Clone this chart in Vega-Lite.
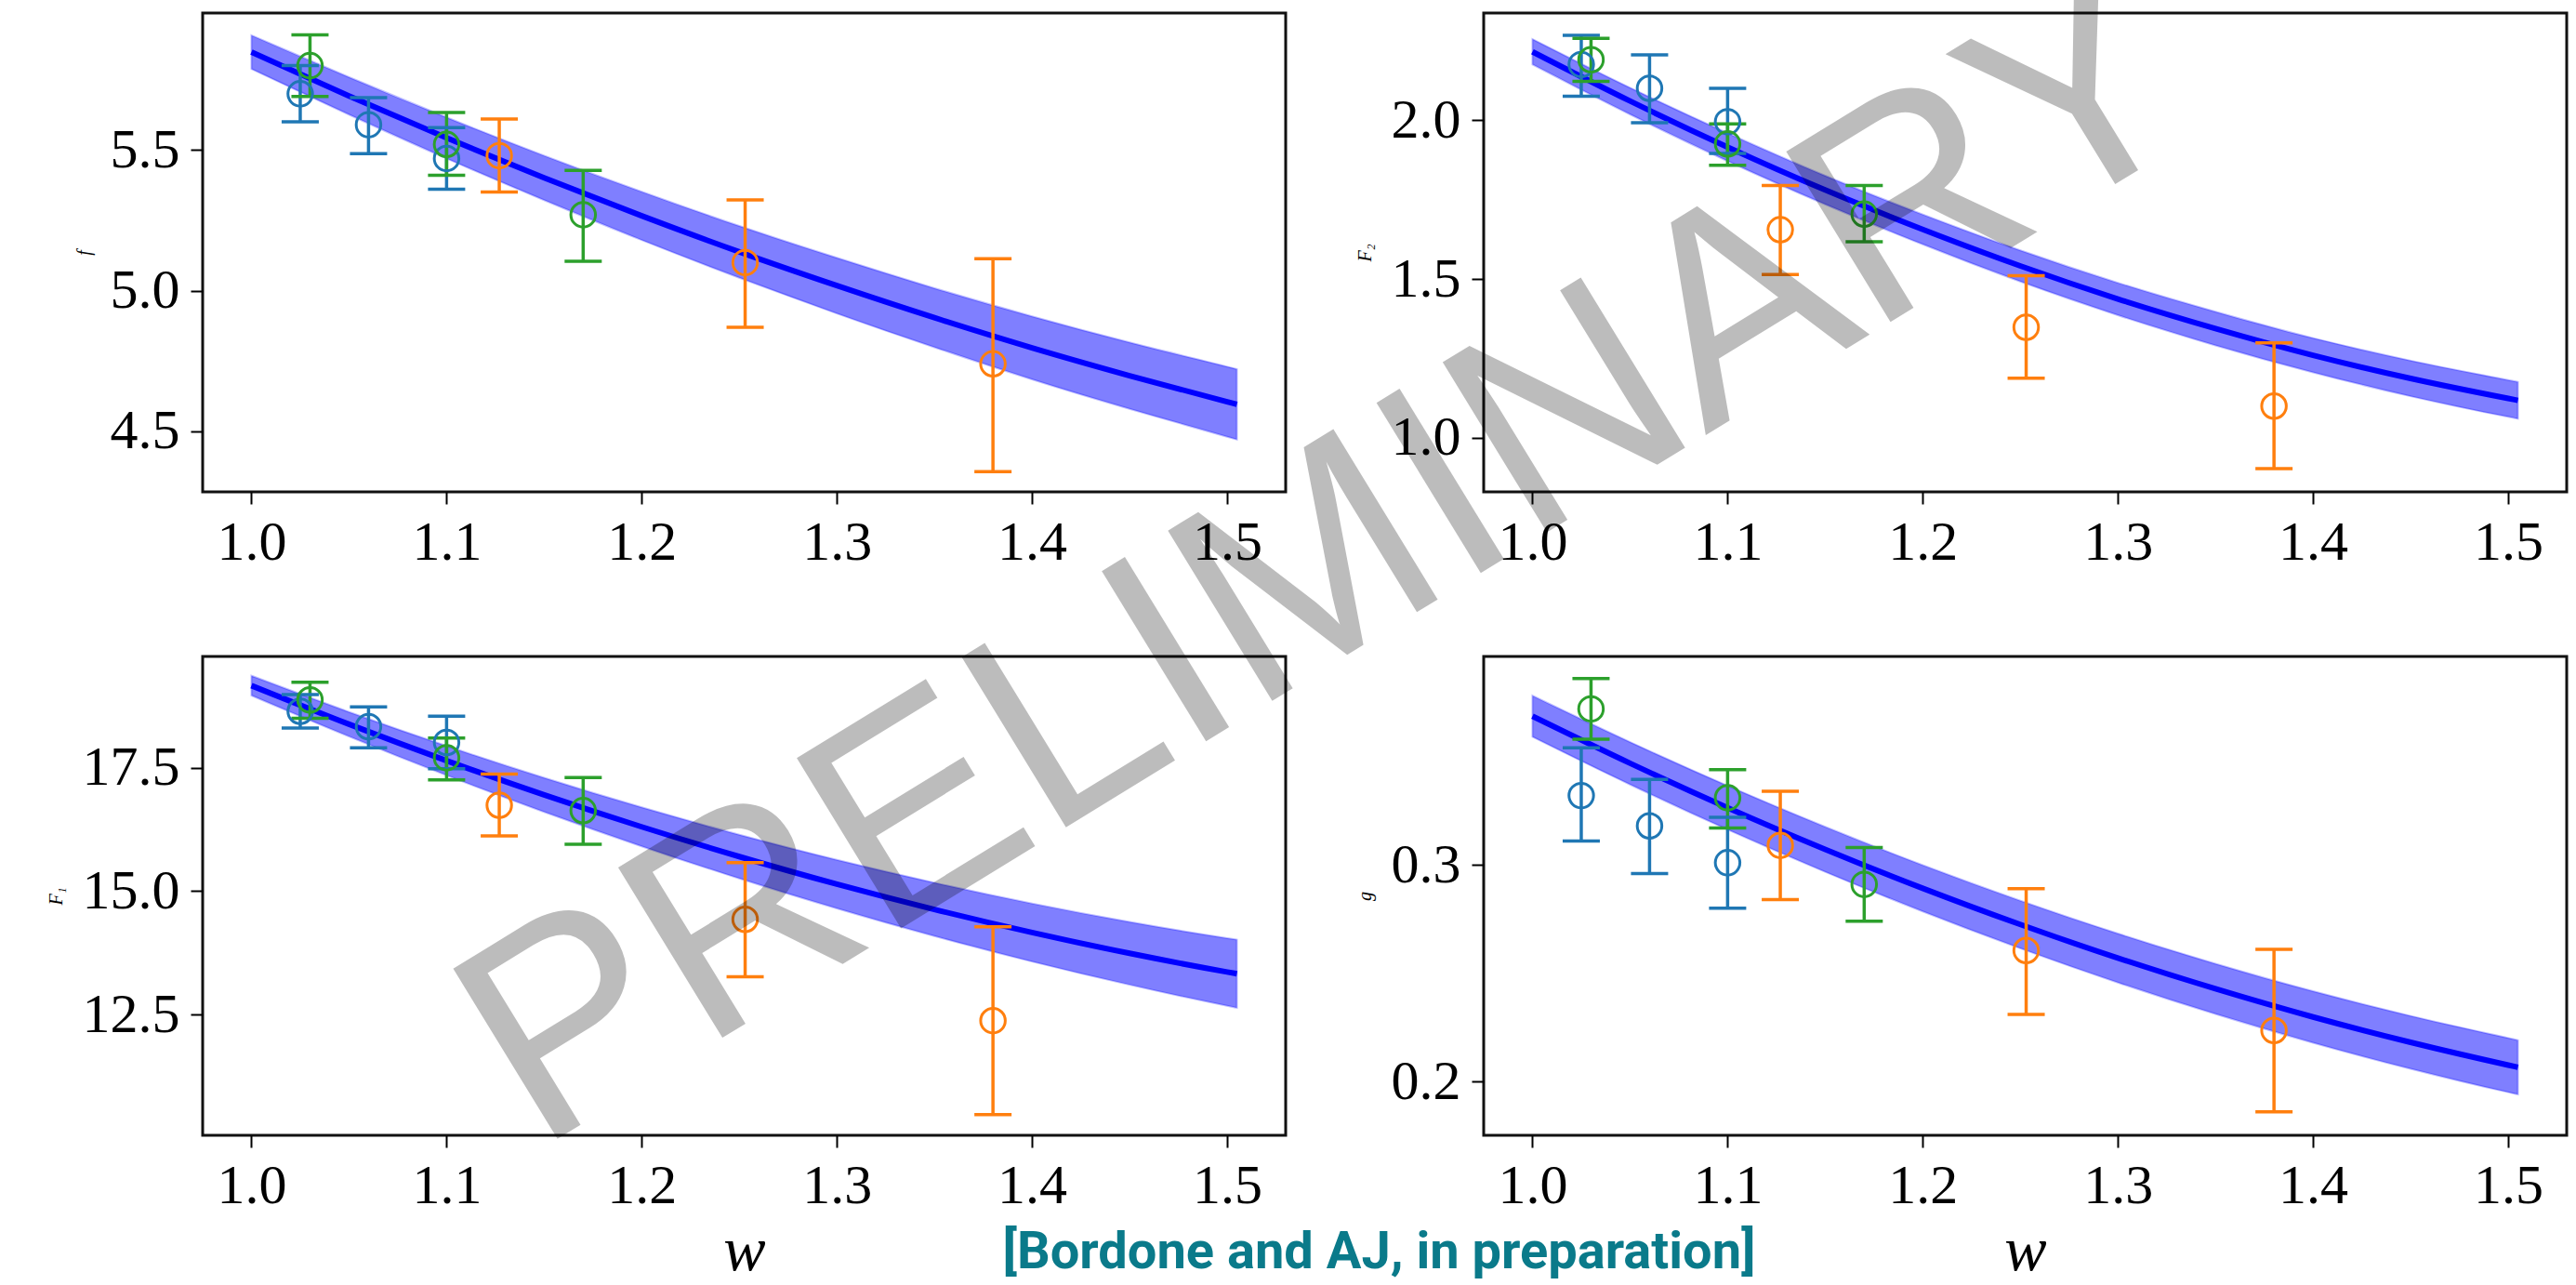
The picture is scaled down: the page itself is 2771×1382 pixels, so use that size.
{
  "$schema": "https://vega.github.io/schema/vega-lite/v6.json",
  "background": "white",
  "autosize": {"type": "none"},
  "padding": {"left": 218, "top": 14, "right": 2553, "bottom": 1368},
  "datasets": {
    "pts": [
      {"q": "f", "s": "s1", "w": 1.025, "v": 5.70, "lo": 5.60, "hi": 5.80},
      {"q": "f", "s": "s1", "w": 1.06, "v": 5.59, "lo": 5.487, "hi": 5.686},
      {"q": "f", "s": "s1", "w": 1.10, "v": 5.47, "lo": 5.361, "hi": 5.58},
      {"q": "f", "s": "s2", "w": 1.127, "v": 5.48, "lo": 5.351, "hi": 5.61},
      {"q": "f", "s": "s2", "w": 1.253, "v": 5.10, "lo": 4.87, "hi": 5.323},
      {"q": "f", "s": "s2", "w": 1.38, "v": 4.74, "lo": 4.357, "hi": 5.114},
      {"q": "f", "s": "s3", "w": 1.03, "v": 5.80, "lo": 5.69, "hi": 5.909},
      {"q": "f", "s": "s3", "w": 1.10, "v": 5.52, "lo": 5.41, "hi": 5.633},
      {"q": "f", "s": "s3", "w": 1.17, "v": 5.27, "lo": 5.105, "hi": 5.428},
      {"q": "F2", "s": "s1", "w": 1.025, "v": 2.175, "lo": 2.075, "hi": 2.267},
      {"q": "F2", "s": "s1", "w": 1.06, "v": 2.10, "lo": 1.992, "hi": 2.205},
      {"q": "F2", "s": "s1", "w": 1.10, "v": 1.995, "lo": 1.895, "hi": 2.10},
      {"q": "F2", "s": "s2", "w": 1.127, "v": 1.655, "lo": 1.514, "hi": 1.794},
      {"q": "F2", "s": "s2", "w": 1.253, "v": 1.348, "lo": 1.188, "hi": 1.51},
      {"q": "F2", "s": "s2", "w": 1.38, "v": 1.10, "lo": 0.903, "hi": 1.299},
      {"q": "F2", "s": "s3", "w": 1.03, "v": 2.19, "lo": 2.122, "hi": 2.257},
      {"q": "F2", "s": "s3", "w": 1.10, "v": 1.925, "lo": 1.858, "hi": 1.988},
      {"q": "F2", "s": "s3", "w": 1.17, "v": 1.704, "lo": 1.617, "hi": 1.794},
      {"q": "F1", "s": "s1", "w": 1.025, "v": 18.64, "lo": 18.30, "hi": 18.98},
      {"q": "F1", "s": "s1", "w": 1.06, "v": 18.33, "lo": 17.90, "hi": 18.73},
      {"q": "F1", "s": "s1", "w": 1.10, "v": 18.01, "lo": 17.48, "hi": 18.54},
      {"q": "F1", "s": "s2", "w": 1.127, "v": 16.74, "lo": 16.12, "hi": 17.37},
      {"q": "F1", "s": "s2", "w": 1.253, "v": 14.43, "lo": 13.27, "hi": 15.58},
      {"q": "F1", "s": "s2", "w": 1.38, "v": 12.38, "lo": 10.48, "hi": 14.28},
      {"q": "F1", "s": "s3", "w": 1.03, "v": 18.87, "lo": 18.50, "hi": 19.23},
      {"q": "F1", "s": "s3", "w": 1.10, "v": 17.70, "lo": 17.25, "hi": 18.10},
      {"q": "F1", "s": "s3", "w": 1.17, "v": 16.63, "lo": 15.95, "hi": 17.30},
      {"q": "g", "s": "s1", "w": 1.025, "v": 0.332, "lo": 0.311, "hi": 0.354},
      {"q": "g", "s": "s1", "w": 1.06, "v": 0.318, "lo": 0.296, "hi": 0.3395},
      {"q": "g", "s": "s1", "w": 1.10, "v": 0.301, "lo": 0.280, "hi": 0.322},
      {"q": "g", "s": "s2", "w": 1.127, "v": 0.309, "lo": 0.284, "hi": 0.334},
      {"q": "g", "s": "s2", "w": 1.253, "v": 0.2605, "lo": 0.231, "hi": 0.289},
      {"q": "g", "s": "s2", "w": 1.38, "v": 0.2236, "lo": 0.186, "hi": 0.261},
      {"q": "g", "s": "s3", "w": 1.03, "v": 0.372, "lo": 0.358, "hi": 0.386},
      {"q": "g", "s": "s3", "w": 1.10, "v": 0.331, "lo": 0.317, "hi": 0.344},
      {"q": "g", "s": "s3", "w": 1.17, "v": 0.291, "lo": 0.274, "hi": 0.308}
    ],
    "curve": [
      {"q": "f", "w": 1.0, "c": 5.848, "lo": 5.788, "hi": 5.908},
      {"q": "f", "w": 1.05, "c": 5.692, "lo": 5.626, "hi": 5.759},
      {"q": "f", "w": 1.10, "c": 5.543, "lo": 5.470, "hi": 5.616},
      {"q": "f", "w": 1.15, "c": 5.401, "lo": 5.322, "hi": 5.480},
      {"q": "f", "w": 1.20, "c": 5.266, "lo": 5.180, "hi": 5.352},
      {"q": "f", "w": 1.25, "c": 5.138, "lo": 5.046, "hi": 5.230},
      {"q": "f", "w": 1.30, "c": 5.018, "lo": 4.919, "hi": 5.117},
      {"q": "f", "w": 1.35, "c": 4.904, "lo": 4.799, "hi": 5.009},
      {"q": "f", "w": 1.40, "c": 4.797, "lo": 4.685, "hi": 4.909},
      {"q": "f", "w": 1.45, "c": 4.698, "lo": 4.580, "hi": 4.816},
      {"q": "f", "w": 1.50, "c": 4.605, "lo": 4.481, "hi": 4.730},
      {"q": "f", "w": 1.505, "c": 4.596, "lo": 4.471, "hi": 4.721},
      {"q": "F2", "w": 1.0, "c": 2.215, "lo": 2.175, "hi": 2.255},
      {"q": "F2", "w": 1.05, "c": 2.060, "lo": 2.018, "hi": 2.102},
      {"q": "F2", "w": 1.10, "c": 1.915, "lo": 1.871, "hi": 1.959},
      {"q": "F2", "w": 1.15, "c": 1.780, "lo": 1.735, "hi": 1.825},
      {"q": "F2", "w": 1.20, "c": 1.656, "lo": 1.609, "hi": 1.703},
      {"q": "F2", "w": 1.25, "c": 1.541, "lo": 1.492, "hi": 1.590},
      {"q": "F2", "w": 1.30, "c": 1.437, "lo": 1.386, "hi": 1.488},
      {"q": "F2", "w": 1.35, "c": 1.344, "lo": 1.291, "hi": 1.397},
      {"q": "F2", "w": 1.40, "c": 1.260, "lo": 1.206, "hi": 1.314},
      {"q": "F2", "w": 1.45, "c": 1.187, "lo": 1.131, "hi": 1.243},
      {"q": "F2", "w": 1.50, "c": 1.124, "lo": 1.066, "hi": 1.182},
      {"q": "F2", "w": 1.505, "c": 1.118, "lo": 1.060, "hi": 1.176},
      {"q": "F1", "w": 1.0, "c": 19.160, "lo": 18.960, "hi": 19.360},
      {"q": "F1", "w": 1.05, "c": 18.378, "lo": 18.130, "hi": 18.627},
      {"q": "F1", "w": 1.10, "c": 17.641, "lo": 17.344, "hi": 17.938},
      {"q": "F1", "w": 1.15, "c": 16.949, "lo": 16.604, "hi": 17.295},
      {"q": "F1", "w": 1.20, "c": 16.302, "lo": 15.908, "hi": 16.696},
      {"q": "F1", "w": 1.25, "c": 15.700, "lo": 15.258, "hi": 16.143},
      {"q": "F1", "w": 1.30, "c": 15.142, "lo": 14.651, "hi": 15.633},
      {"q": "F1", "w": 1.35, "c": 14.631, "lo": 14.092, "hi": 15.171},
      {"q": "F1", "w": 1.40, "c": 14.164, "lo": 13.576, "hi": 14.752},
      {"q": "F1", "w": 1.45, "c": 13.742, "lo": 13.106, "hi": 14.379},
      {"q": "F1", "w": 1.50, "c": 13.365, "lo": 12.680, "hi": 14.050},
      {"q": "F1", "w": 1.505, "c": 13.330, "lo": 12.640, "hi": 14.020},
      {"q": "g", "w": 1.0, "c": 0.3686, "lo": 0.3591, "hi": 0.3781},
      {"q": "g", "w": 1.05, "c": 0.3469, "lo": 0.3371, "hi": 0.3567},
      {"q": "g", "w": 1.10, "c": 0.3264, "lo": 0.3163, "hi": 0.3365},
      {"q": "g", "w": 1.15, "c": 0.3072, "lo": 0.2968, "hi": 0.3176},
      {"q": "g", "w": 1.20, "c": 0.2892, "lo": 0.2785, "hi": 0.2999},
      {"q": "g", "w": 1.25, "c": 0.2725, "lo": 0.2615, "hi": 0.2835},
      {"q": "g", "w": 1.30, "c": 0.2570, "lo": 0.2457, "hi": 0.2683},
      {"q": "g", "w": 1.35, "c": 0.2428, "lo": 0.2312, "hi": 0.2544},
      {"q": "g", "w": 1.40, "c": 0.2298, "lo": 0.2179, "hi": 0.2417},
      {"q": "g", "w": 1.45, "c": 0.2181, "lo": 0.2059, "hi": 0.2303},
      {"q": "g", "w": 1.50, "c": 0.2076, "lo": 0.1951, "hi": 0.2201},
      {"q": "g", "w": 1.505, "c": 0.2066, "lo": 0.1941, "hi": 0.2191}
    ]
  },
  "title": {
    "text": "[Bordone and AJ, in preparation]",
    "orient": "bottom",
    "anchor": "middle",
    "font": "Liberation Sans Narrow, Roboto, sans-serif",
    "fontSize": 56,
    "fontWeight": "bold",
    "color": "#0a7a8a",
    "offset": -61,
    "dx": 78
  },
  "columns": 2,
  "bounds": "flush",
  "spacing": {"row": 177, "column": 213},
  "concat": [
    {
      "width": 1165, "height": 515,
      "layer": [
        {"data": {"name": "curve"}, "transform": [{"filter": "datum.q === 'f'"}],
         "mark": {"type": "area", "interpolate": "monotone", "fill": "#0000ff", "fillOpacity": 0.5, "stroke": "#0000ff", "strokeOpacity": 0.25, "strokeWidth": 2},
         "encoding": {
           "x": {"field": "w", "type": "quantitative", "scale": {"domain": [0.975, 1.53], "nice": false, "zero": false}, "axis": {"values": [1.0, 1.1, 1.2, 1.3, 1.4, 1.5], "format": ".1f", "title": null}},
           "y": {"field": "lo", "type": "quantitative", "scale": {"domain": [4.285, 5.987], "nice": false, "zero": false}, "axis": {"values": [4.5, 5.0, 5.5], "format": ".1f", "title": "f"}},
           "y2": {"field": "hi"}
         }},
        {"data": {"name": "curve"}, "transform": [{"filter": "datum.q === 'f'"}],
         "mark": {"type": "line", "interpolate": "monotone", "color": "#0000ff", "strokeWidth": 6},
         "encoding": {"x": {"field": "w", "type": "quantitative"}, "y": {"field": "c", "type": "quantitative"}}},
        {"data": {"name": "pts"}, "transform": [{"filter": "datum.q === 'f'"}],
         "mark": {"type": "rule", "strokeWidth": 3.5},
         "encoding": {"x": {"field": "w", "type": "quantitative"}, "y": {"field": "lo", "type": "quantitative"}, "y2": {"field": "hi"},
           "color": {"field": "s", "type": "nominal", "scale": {"domain": ["s1", "s2", "s3"], "range": ["#1f77b4", "#ff7f0e", "#2ca02c"]}, "legend": null}}},
        {"data": {"name": "pts"}, "transform": [{"filter": "datum.q === 'f'"}],
         "mark": {"type": "tick", "orient": "horizontal", "size": 40, "thickness": 3.5, "opacity": 1},
         "encoding": {"x": {"field": "w", "type": "quantitative"}, "y": {"field": "lo", "type": "quantitative"},
           "color": {"field": "s", "type": "nominal", "scale": {"domain": ["s1", "s2", "s3"], "range": ["#1f77b4", "#ff7f0e", "#2ca02c"]}, "legend": null}}},
        {"data": {"name": "pts"}, "transform": [{"filter": "datum.q === 'f'"}],
         "mark": {"type": "tick", "orient": "horizontal", "size": 40, "thickness": 3.5, "opacity": 1},
         "encoding": {"x": {"field": "w", "type": "quantitative"}, "y": {"field": "hi", "type": "quantitative"},
           "color": {"field": "s", "type": "nominal", "scale": {"domain": ["s1", "s2", "s3"], "range": ["#1f77b4", "#ff7f0e", "#2ca02c"]}, "legend": null}}},
        {"data": {"name": "pts"}, "transform": [{"filter": "datum.q === 'f'"}],
         "mark": {"type": "point", "shape": "circle", "filled": false, "size": 700, "strokeWidth": 3, "opacity": 1},
         "encoding": {"x": {"field": "w", "type": "quantitative"}, "y": {"field": "v", "type": "quantitative"},
           "color": {"field": "s", "type": "nominal", "scale": {"domain": ["s1", "s2", "s3"], "range": ["#1f77b4", "#ff7f0e", "#2ca02c"]}, "legend": null}}}
      ]
    },
    {
      "width": 1165, "height": 515,
      "layer": [
        {"data": {"name": "curve"}, "transform": [{"filter": "datum.q === 'F2'"}],
         "mark": {"type": "area", "interpolate": "monotone", "fill": "#0000ff", "fillOpacity": 0.5, "stroke": "#0000ff", "strokeOpacity": 0.25, "strokeWidth": 2},
         "encoding": {
           "x": {"field": "w", "type": "quantitative", "scale": {"domain": [0.975, 1.53], "nice": false, "zero": false}, "axis": {"values": [1.0, 1.1, 1.2, 1.3, 1.4, 1.5], "format": ".1f", "title": null}},
           "y": {"field": "lo", "type": "quantitative", "scale": {"domain": [0.83, 2.337], "nice": false, "zero": false}, "axis": {"values": [1.0, 1.5, 2.0], "format": ".1f", "title": "F₂"}},
           "y2": {"field": "hi"}
         }},
        {"data": {"name": "curve"}, "transform": [{"filter": "datum.q === 'F2'"}],
         "mark": {"type": "line", "interpolate": "monotone", "color": "#0000ff", "strokeWidth": 6},
         "encoding": {"x": {"field": "w", "type": "quantitative"}, "y": {"field": "c", "type": "quantitative"}}},
        {"data": {"name": "pts"}, "transform": [{"filter": "datum.q === 'F2'"}],
         "mark": {"type": "rule", "strokeWidth": 3.5},
         "encoding": {"x": {"field": "w", "type": "quantitative"}, "y": {"field": "lo", "type": "quantitative"}, "y2": {"field": "hi"},
           "color": {"field": "s", "type": "nominal", "scale": {"domain": ["s1", "s2", "s3"], "range": ["#1f77b4", "#ff7f0e", "#2ca02c"]}, "legend": null}}},
        {"data": {"name": "pts"}, "transform": [{"filter": "datum.q === 'F2'"}],
         "mark": {"type": "tick", "orient": "horizontal", "size": 40, "thickness": 3.5, "opacity": 1},
         "encoding": {"x": {"field": "w", "type": "quantitative"}, "y": {"field": "lo", "type": "quantitative"},
           "color": {"field": "s", "type": "nominal", "scale": {"domain": ["s1", "s2", "s3"], "range": ["#1f77b4", "#ff7f0e", "#2ca02c"]}, "legend": null}}},
        {"data": {"name": "pts"}, "transform": [{"filter": "datum.q === 'F2'"}],
         "mark": {"type": "tick", "orient": "horizontal", "size": 40, "thickness": 3.5, "opacity": 1},
         "encoding": {"x": {"field": "w", "type": "quantitative"}, "y": {"field": "hi", "type": "quantitative"},
           "color": {"field": "s", "type": "nominal", "scale": {"domain": ["s1", "s2", "s3"], "range": ["#1f77b4", "#ff7f0e", "#2ca02c"]}, "legend": null}}},
        {"data": {"name": "pts"}, "transform": [{"filter": "datum.q === 'F2'"}],
         "mark": {"type": "point", "shape": "circle", "filled": false, "size": 700, "strokeWidth": 3, "opacity": 1},
         "encoding": {"x": {"field": "w", "type": "quantitative"}, "y": {"field": "v", "type": "quantitative"},
           "color": {"field": "s", "type": "nominal", "scale": {"domain": ["s1", "s2", "s3"], "range": ["#1f77b4", "#ff7f0e", "#2ca02c"]}, "legend": null}}}
      ]
    },
    {
      "width": 1165, "height": 515,
      "layer": [
        {"data": {"name": "curve"}, "transform": [{"filter": "datum.q === 'F1'"}],
         "mark": {"type": "area", "interpolate": "monotone", "fill": "#0000ff", "fillOpacity": 0.5, "stroke": "#0000ff", "strokeOpacity": 0.25, "strokeWidth": 2},
         "encoding": {
           "x": {"field": "w", "type": "quantitative", "scale": {"domain": [0.975, 1.53], "nice": false, "zero": false}, "axis": {"values": [1.0, 1.1, 1.2, 1.3, 1.4, 1.5], "format": ".1f", "title": "w", "titleFontSize": 68, "titleBaseline": "alphabetic", "titlePadding": 60}},
           "y": {"field": "lo", "type": "quantitative", "scale": {"domain": [10.06, 19.75], "nice": false, "zero": false}, "axis": {"values": [12.5, 15.0, 17.5], "format": ".1f", "title": "F₁"}},
           "y2": {"field": "hi"}
         }},
        {"data": {"name": "curve"}, "transform": [{"filter": "datum.q === 'F1'"}],
         "mark": {"type": "line", "interpolate": "monotone", "color": "#0000ff", "strokeWidth": 6},
         "encoding": {"x": {"field": "w", "type": "quantitative"}, "y": {"field": "c", "type": "quantitative"}}},
        {"data": {"name": "pts"}, "transform": [{"filter": "datum.q === 'F1'"}],
         "mark": {"type": "rule", "strokeWidth": 3.5},
         "encoding": {"x": {"field": "w", "type": "quantitative"}, "y": {"field": "lo", "type": "quantitative"}, "y2": {"field": "hi"},
           "color": {"field": "s", "type": "nominal", "scale": {"domain": ["s1", "s2", "s3"], "range": ["#1f77b4", "#ff7f0e", "#2ca02c"]}, "legend": null}}},
        {"data": {"name": "pts"}, "transform": [{"filter": "datum.q === 'F1'"}],
         "mark": {"type": "tick", "orient": "horizontal", "size": 40, "thickness": 3.5, "opacity": 1},
         "encoding": {"x": {"field": "w", "type": "quantitative"}, "y": {"field": "lo", "type": "quantitative"},
           "color": {"field": "s", "type": "nominal", "scale": {"domain": ["s1", "s2", "s3"], "range": ["#1f77b4", "#ff7f0e", "#2ca02c"]}, "legend": null}}},
        {"data": {"name": "pts"}, "transform": [{"filter": "datum.q === 'F1'"}],
         "mark": {"type": "tick", "orient": "horizontal", "size": 40, "thickness": 3.5, "opacity": 1},
         "encoding": {"x": {"field": "w", "type": "quantitative"}, "y": {"field": "hi", "type": "quantitative"},
           "color": {"field": "s", "type": "nominal", "scale": {"domain": ["s1", "s2", "s3"], "range": ["#1f77b4", "#ff7f0e", "#2ca02c"]}, "legend": null}}},
        {"data": {"name": "pts"}, "transform": [{"filter": "datum.q === 'F1'"}],
         "mark": {"type": "point", "shape": "circle", "filled": false, "size": 700, "strokeWidth": 3, "opacity": 1},
         "encoding": {"x": {"field": "w", "type": "quantitative"}, "y": {"field": "v", "type": "quantitative"},
           "color": {"field": "s", "type": "nominal", "scale": {"domain": ["s1", "s2", "s3"], "range": ["#1f77b4", "#ff7f0e", "#2ca02c"]}, "legend": null}}}
      ]
    },
    {
      "width": 1165, "height": 515,
      "layer": [
        {"data": {"name": "curve"}, "transform": [{"filter": "datum.q === 'g'"}],
         "mark": {"type": "area", "interpolate": "monotone", "fill": "#0000ff", "fillOpacity": 0.5, "stroke": "#0000ff", "strokeOpacity": 0.25, "strokeWidth": 2},
         "encoding": {
           "x": {"field": "w", "type": "quantitative", "scale": {"domain": [0.975, 1.53], "nice": false, "zero": false}, "axis": {"values": [1.0, 1.1, 1.2, 1.3, 1.4, 1.5], "format": ".1f", "title": "w", "titleFontSize": 68, "titleBaseline": "alphabetic", "titlePadding": 60}},
           "y": {"field": "lo", "type": "quantitative", "scale": {"domain": [0.1752, 0.3962], "nice": false, "zero": false}, "axis": {"values": [0.2, 0.3], "format": ".1f", "title": "g"}},
           "y2": {"field": "hi"}
         }},
        {"data": {"name": "curve"}, "transform": [{"filter": "datum.q === 'g'"}],
         "mark": {"type": "line", "interpolate": "monotone", "color": "#0000ff", "strokeWidth": 6},
         "encoding": {"x": {"field": "w", "type": "quantitative"}, "y": {"field": "c", "type": "quantitative"}}},
        {"data": {"name": "pts"}, "transform": [{"filter": "datum.q === 'g'"}],
         "mark": {"type": "rule", "strokeWidth": 3.5},
         "encoding": {"x": {"field": "w", "type": "quantitative"}, "y": {"field": "lo", "type": "quantitative"}, "y2": {"field": "hi"},
           "color": {"field": "s", "type": "nominal", "scale": {"domain": ["s1", "s2", "s3"], "range": ["#1f77b4", "#ff7f0e", "#2ca02c"]}, "legend": null}}},
        {"data": {"name": "pts"}, "transform": [{"filter": "datum.q === 'g'"}],
         "mark": {"type": "tick", "orient": "horizontal", "size": 40, "thickness": 3.5, "opacity": 1},
         "encoding": {"x": {"field": "w", "type": "quantitative"}, "y": {"field": "lo", "type": "quantitative"},
           "color": {"field": "s", "type": "nominal", "scale": {"domain": ["s1", "s2", "s3"], "range": ["#1f77b4", "#ff7f0e", "#2ca02c"]}, "legend": null}}},
        {"data": {"name": "pts"}, "transform": [{"filter": "datum.q === 'g'"}],
         "mark": {"type": "tick", "orient": "horizontal", "size": 40, "thickness": 3.5, "opacity": 1},
         "encoding": {"x": {"field": "w", "type": "quantitative"}, "y": {"field": "hi", "type": "quantitative"},
           "color": {"field": "s", "type": "nominal", "scale": {"domain": ["s1", "s2", "s3"], "range": ["#1f77b4", "#ff7f0e", "#2ca02c"]}, "legend": null}}},
        {"data": {"name": "pts"}, "transform": [{"filter": "datum.q === 'g'"}],
         "mark": {"type": "point", "shape": "circle", "filled": false, "size": 700, "strokeWidth": 3, "opacity": 1},
         "encoding": {"x": {"field": "w", "type": "quantitative"}, "y": {"field": "v", "type": "quantitative"},
           "color": {"field": "s", "type": "nominal", "scale": {"domain": ["s1", "s2", "s3"], "range": ["#1f77b4", "#ff7f0e", "#2ca02c"]}, "legend": null}}},
        {"data": {"values": [{"label": "PRELIMINARY"}]},
         "mark": {"type": "text", "font": "Liberation Sans, Arial, sans-serif", "fontSize": 312, "angle": 328.5, "align": "center", "baseline": "middle", "color": "black", "opacity": 0.26},
         "encoding": {"text": {"field": "label"}, "x": {"datum": 0.895, "type": "quantitative"}, "y": {"datum": 0.4387, "type": "quantitative"}}}
      ]
    }
  ],
  "config": {
    "view": {"stroke": "#111111", "strokeWidth": 3},
    "axis": {
      "grid": false, "domain": false, "ticks": true, "tickColor": "black", "tickSize": 13, "tickWidth": 2,
      "labelFont": "Liberation Serif", "labelFontSize": 60, "labelColor": "black", "labelPadding": 12,
      "labelFlush": false, "labelOverlap": false,
      "titleFont": "Liberation Serif", "titleFontStyle": "italic", "titleFontWeight": "normal", "titleColor": "black", "titleFontSize": 20, "titlePadding": 18
    }
  }
}
